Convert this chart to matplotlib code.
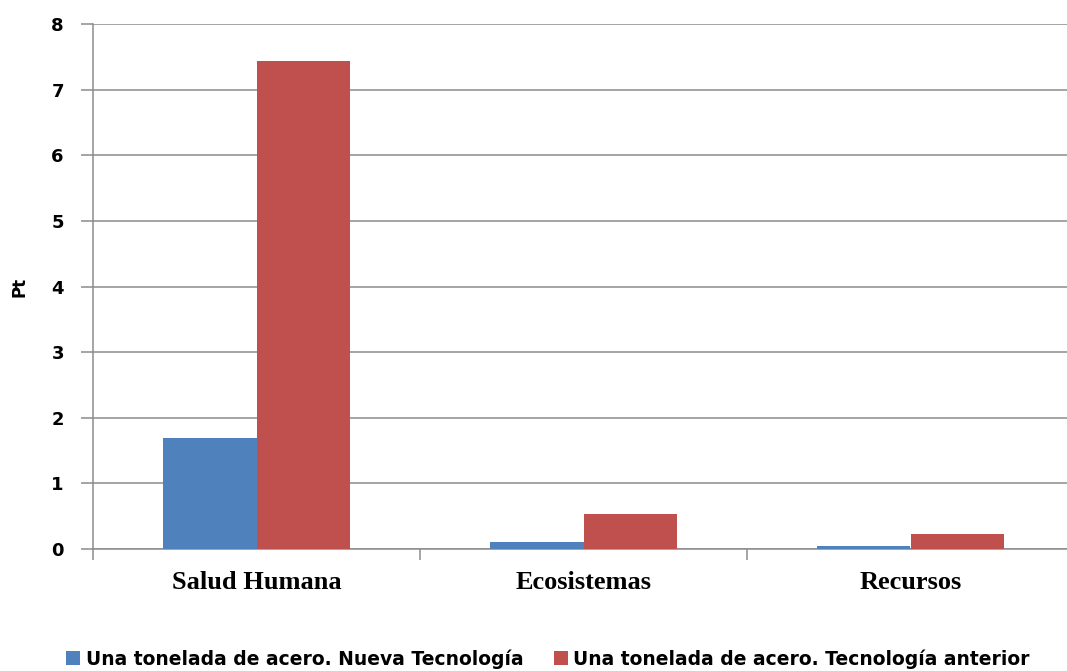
import numpy as np
import matplotlib.pyplot as plt

# === Data ===
categories = ["Salud Humana", "Ecosistemas", "Recursos"]
nueva = [1.69, 0.11, 0.05]
anterior = [7.44, 0.53, 0.23]
series_names = ["Una tonelada de acero. Nueva Tecnología",
                "Una tonelada de acero. Tecnología anterior"]
yticks = [0, 1, 2, 3, 4, 5, 6, 7, 8]

blue = "#4F81BD"
red = "#C0504D"
grid_col = "#8C8C8C"

fig = plt.figure(figsize=(10.67, 6.71), dpi=100)
ax = fig.add_axes([93 / 1067, 1 - 549 / 671, (1074 - 93) / 1067, (549 - 24) / 671])

x = np.arange(len(categories))
w = 0.285
ax.bar(x - w / 2, nueva, w, color=blue, label=series_names[0], zorder=3)
ax.bar(x + w / 2, anterior, w, color=red, label=series_names[1], zorder=3)

ax.set_xlim(-0.5, len(categories) - 0.5)
ax.set_ylim(0, 8)
ax.set_yticks(yticks)
ax.set_yticklabels([str(t) for t in yticks], fontsize=13, fontweight="bold")
ax.yaxis.grid(True, color=grid_col, linewidth=1.1, zorder=0)

# category labels between boundary ticks
ax.set_xticks(np.arange(-0.5, len(categories) + 0.5, 1.0))
ax.set_xticklabels([])
ax.set_xticks(x, minor=True)
ax.set_xticklabels(categories, minor=True, fontsize=19, fontweight="bold",
                   family="Liberation Serif")
ax.tick_params(axis="x", which="minor", length=0, pad=16)
ax.tick_params(axis="x", which="major", length=8, color=grid_col, width=1.1)
ax.tick_params(axis="y", length=9, color=grid_col, width=1.1, pad=12)

for s in ["top", "right"]:
    ax.spines[s].set_visible(False)
ax.spines["left"].set_color(grid_col)
ax.spines["bottom"].set_color(grid_col)
ax.spines["left"].set_linewidth(1.1)
ax.spines["bottom"].set_linewidth(1.1)

ax.set_ylabel("Pt", fontsize=12, fontweight="bold", labelpad=16)

fig.legend(loc="center", bbox_to_anchor=(548 / 1067, 1 - 659 / 671), ncol=2,
           frameon=False, prop={"size": 13.5, "weight": "bold"},
           handlelength=0.75, handleheight=0.75,
           handletextpad=0.3, columnspacing=1.6)

fig.savefig("out.png", dpi=100)
